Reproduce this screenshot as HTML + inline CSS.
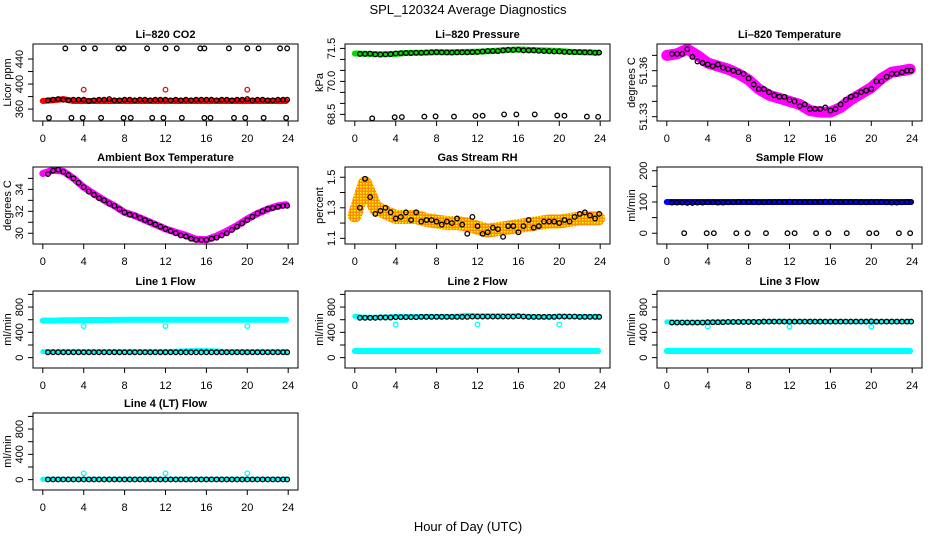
<!DOCTYPE html>
<html><head><meta charset="utf-8"><style>
html,body{margin:0;padding:0;background:#fff;}
svg{display:block;font-family:"Liberation Sans",Arial,sans-serif;}
</style></head><body>
<svg id="chart" width="936" height="540" viewBox="0 0 936 540">
<text x="468" y="14" text-anchor="middle" font-size="13">SPL_120324  Average Diagnostics</text>
<text x="468" y="531" text-anchor="middle" font-size="13">Hour of Day (UTC)</text>
</svg>
<script>
// shared x data
const hours = [0.5,1.0,1.5,2.0,2.5,3.0,3.5,4.0,4.5,5.0,5.5,6.0,6.5,7.0,7.5,8.0,8.5,9.0,9.5,10.0,10.5,11.0,11.5,12.0,12.5,13.0,13.5,14.0,14.5,15.0,15.5,16.0,16.5,17.0,17.5,18.0,18.5,19.0,19.5,20.0,20.5,21.0,21.5,22.0,22.5,23.0,23.5,23.9];
const knots = [0,1,2,3,4,5,6,7,8,9,10,11,12,13,14,15,16,17,18,19,20,21,22,23,23.8];
const xTicks = [0,4,8,12,16,20,24];
const outlierHours = [4,12,20];
const topOutHours = [2.2,4,5.1,7.4,7.9,10.2,12,13.1,15.4,15.8,18.2,20,21.1,23.2,23.9];
const lowOutHours = [0.6,2.8,3.9,5.7,7.9,8.6,10.7,11.8,13.6,15.8,16.4,18.7,19.8,21.6,23.8];
const dropHours = [1.7,3.9,4.6,6.8,7.9,9.7,11.8,12.5,14.6,15.8,17.6,19.8,20.5,22.7,23.8];

// CO2
const co2Band = [373,374,376,373,373,373,373,373,373,373,373,373,373,373,373,373,373,373,373,373,373,373,373,373,373];
const co2Black = [374,375,376,375,374,375,375,375,373,374,375,375,376,374,374,375,375,374,375,375,374,375,375,375,374,375,374,375,374,375,375,375,375,374,375,375,374,375,375,376,374,375,375,374,374,375,375,375];
const co2Top = [457,457,457,457,457,457,457,457,457,457,457,457,457,457,457];
const co2Low = [346,346,346,346,346,346,346,346,346,346,346,346,346,346,346];
const co2Red = [391,391,391];
// Pressure
const presBand = [71.27,71.26,71.24,71.23,71.25,71.29,71.30,71.31,71.33,71.32,71.33,71.34,71.35,71.37,71.40,71.43,71.45,71.43,71.42,71.40,71.38,71.35,71.33,71.32,71.30];
const presBlack = [71.25,71.25,71.26,71.23,71.22,71.23,71.24,71.27,71.28,71.29,71.29,71.30,71.30,71.31,71.32,71.33,71.32,71.32,71.31,71.32,71.32,71.32,71.33,71.34,71.36,71.38,71.38,71.38,71.41,71.43,71.43,71.44,71.41,71.41,71.41,71.39,71.38,71.37,71.36,71.36,71.34,71.34,71.33,71.33,71.32,71.32,71.30,71.31];
const presDrop = [68.32,68.37,68.38,68.40,68.41,68.40,68.43,68.44,68.50,68.50,68.50,68.45,68.44,68.40,68.39];
// Li-820 temperature
const tempBand = [51.370,51.371,51.374,51.370,51.365,51.363,51.361,51.358,51.354,51.348,51.344,51.342,51.340,51.338,51.334,51.333,51.333,51.336,51.341,51.345,51.349,51.355,51.359,51.360,51.361];
const tempBlack = [51.371,51.371,51.371,51.374,51.369,51.366,51.365,51.364,51.363,51.364,51.362,51.361,51.360,51.359,51.358,51.355,51.351,51.348,51.348,51.346,51.344,51.343,51.343,51.341,51.340,51.337,51.338,51.335,51.335,51.335,51.336,51.334,51.335,51.338,51.341,51.343,51.344,51.346,51.347,51.348,51.353,51.353,51.356,51.358,51.358,51.359,51.360,51.360];
// Ambient
const ambBand = [35.45,35.75,35.65,35.0,34.2,33.6,33.0,32.5,31.9,31.6,31.2,30.8,30.4,30.1,29.8,29.45,29.4,29.75,30.2,30.7,31.3,31.8,32.2,32.5,32.6];
const ambBlack = [35.4,35.7,35.8,35.6,35.3,35.0,34.6,34.2,33.8,33.5,33.2,33.0,32.7,32.5,32.2,31.9,31.7,31.6,31.4,31.2,31.0,30.8,30.6,30.4,30.2,30.0,29.8,29.7,29.5,29.4,29.4,29.4,29.5,29.6,29.8,30.0,30.3,30.6,30.9,31.2,31.5,31.8,32.0,32.2,32.3,32.4,32.5,32.5];
// RH
const rhBand = [1.25,1.46,1.30,1.27,1.24,1.24,1.24,1.22,1.21,1.20,1.20,1.19,1.17,1.15,1.16,1.17,1.18,1.19,1.20,1.21,1.21,1.22,1.23,1.23,1.23];
const rhBlack = [1.30,1.49,1.37,1.26,1.28,1.30,1.27,1.23,1.24,1.27,1.22,1.27,1.21,1.22,1.22,1.21,1.19,1.21,1.20,1.23,1.19,1.13,1.24,1.18,1.13,1.14,1.17,1.16,1.11,1.18,1.18,1.14,1.18,1.22,1.17,1.18,1.21,1.21,1.21,1.20,1.22,1.21,1.24,1.26,1.27,1.25,1.23,1.26];
// Sample flow
const sfBand = [100,100,100,100,100,100,100,100,100,100,100,100,100,100,100,100,100,100,100,100,100,100,100,100,100];
const sfBlack = [98,98,98,97,97,98,98,99,99,98,98,99,99,100,100,100,100,99,99,100,100,100,100,101,100,100,100,100,100,100,101,101,100,100,100,100,100,99,99,100,100,100,99,98,98,99,100,100];
const sfDrop = [0,0,0,0,0,0,0,0,0,0,0,0,0,0,0];
// Line flows
const l1Cyan = [585,585,590,592,595,596,596,597,598,598,598,598,598,598,598,598,598,598,598,598,598,598,598,598,598];
const l1Low = [95,95,95,95,95,95,95,95,95,95,95,95,95,100,110,112,112,105,95,95,95,95,95,95,95];
const l1Black = [85,85,85,85,85,85,85,85,85,85,85,85,85,85,85,85,85,85,85,85,85,85,85,85,85,85,85,85,85,85,85,85,85,85,85,85,85,85,85,85,85,85,85,85,85,85,85,85];
const l1Out = [500,500,500];
const l2Cyan = [655,640,640,645,650,650,650,650,650,650,655,670,660,660,660,660,660,650,645,645,660,650,650,650,650];
const l2Low = [105,105,105,105,105,105,105,105,105,105,105,105,105,105,105,105,105,105,105,105,105,105,105,105,105];
const l2Black = [630,630,630,630,635,635,635,640,640,640,640,640,645,645,645,645,645,645,645,645,645,645,650,650,650,650,650,650,650,650,650,655,650,645,645,645,645,645,645,650,650,650,650,645,645,645,645,645];
const l2Out = [525,525,525];
const l3Cyan = [565,560,560,560,560,565,565,565,570,570,570,575,570,570,570,570,570,570,570,570,570,570,570,570,570];
const l3Low = [105,105,105,105,105,105,105,105,105,105,105,105,105,105,105,105,105,105,105,105,105,105,105,105,105];
const l3Black = [555,555,555,555,555,555,555,560,560,560,560,565,565,565,565,565,565,565,570,570,570,570,570,570,570,570,570,570,570,570,570,570,570,570,570,570,570,570,570,575,570,570,570,570,570,570,570,570];
const l3Out = [490,490,490];
const l4Cyan = [5,5,5,5,5,5,5,5,5,5,5,5,5,5,5,5,5,5,5,5,5,5,5,5,5];
const l4Black = [3,3,3,3,3,3,3,3,3,3,3,3,3,3,3,3,3,3,3,3,3,3,3,3,3,3,3,3,3,3,3,3,3,3,3,3,3,3,3,3,3,3,3,3,3,3,3,3];
const l4Out = [100,100,100];

const NS = "http://www.w3.org/2000/svg";
const svg = document.getElementById('chart');
const COLS = [33,345,657], ROWS = [44,167,291,413], W = 265, H = 77;
function mk(tag, attrs, parent){const e=document.createElementNS(NS,tag);for(const k in attrs)e.setAttribute(k,attrs[k]);(parent||svg).appendChild(e);return e;}

const flowTicks=[0,200,400,600,800,1000], flowLabels=[0,400,800];
const panels = [
 {name:'co2',title:'Li\u2013820 CO2',ylab:'Licor ppm',c:0,r:0,y0:341,y1:464,ticks:[360,380,400,420,440],labels:[360,400,440],fmt:v=>String(v)},
 {name:'pressure',title:'Li\u2013820 Pressure',ylab:'kPa',c:1,r:0,y0:68.2,y1:71.7,ticks:[68.5,69,69.5,70,70.5,71,71.5],labels:[68.5,70,71.5],fmt:v=>v.toFixed(1)},
 {name:'li820-temp',title:'Li\u2013820 Temperature',ylab:'degrees C',c:2,r:0,y0:51.3272,y1:51.3774,ticks:[51.33,51.34,51.35,51.36,51.37],labels:[51.33,51.36],fmt:v=>v.toFixed(2)},
 {name:'ambient-temp',title:'Ambient Box Temperature',ylab:'degrees C',c:0,r:1,y0:29.02,y1:36.04,ticks:[30,31,32,33,34,35],labels:[30,32,34],fmt:v=>String(v)},
 {name:'rh',title:'Gas Stream RH',ylab:'percent',c:1,r:1,y0:1.063,y1:1.567,ticks:[1.1,1.2,1.3,1.4,1.5],labels:[1.1,1.3,1.5],fmt:v=>v.toFixed(1)},
 {name:'sample-flow',title:'Sample Flow',ylab:'ml/min',c:2,r:1,y0:-34.5,y1:212,ticks:[0,50,100,150,200],labels:[0,100,200],fmt:v=>String(v)},
 {name:'line1',title:'Line 1 Flow',ylab:'ml/min',c:0,r:2,y0:-164,y1:1054,ticks:flowTicks,labels:flowLabels,fmt:v=>String(v)},
 {name:'line2',title:'Line 2 Flow',ylab:'ml/min',c:1,r:2,y0:-164,y1:1054,ticks:flowTicks,labels:flowLabels,fmt:v=>String(v)},
 {name:'line3',title:'Line 3 Flow',ylab:'ml/min',c:2,r:2,y0:-164,y1:1054,ticks:flowTicks,labels:flowLabels,fmt:v=>String(v)},
 {name:'line4',title:'Line 4 (LT) Flow',ylab:'ml/min',c:0,r:3,y0:-164,y1:1054,ticks:flowTicks,labels:flowLabels,fmt:v=>String(v)}
];

function setup(p){
  const L=COLS[p.c], T=ROWS[p.r];
  const g=mk('g',{});
  
  
  p.g=g;
  p.x=v=>L+(v+0.96)/25.92*W;
  p.y=v=>T+H-(v-p.y0)/(p.y1-p.y0)*H;
  p.L=L;p.T=T;
  return p;
}
function axes(p){
  const g=p.g,L=p.L,T=p.T;
  const box=mk('rect',{x:L,y:T,width:W,height:H,fill:'none',stroke:'#000','stroke-width':1},g);
  
  
  const t=mk('text',{x:L+W/2,y:T-6,'text-anchor':'middle','font-size':11,'font-weight':'bold'},g);
  t.textContent=p.title;
  
  
  xTicks.forEach(v=>{
    const X=p.x(v);
    mk('line',{x1:X,y1:T+H,x2:X,y2:T+H+5,stroke:'#000'},g);
    const tl=mk('text',{x:X,y:T+H+21,'text-anchor':'middle','font-size':11},g);
    tl.textContent=v;
    
    
  });
  p.ticks.forEach(v=>{
    const Y=p.y(v);
    mk('line',{x1:L-5,y1:Y,x2:L,y2:Y,stroke:'#000'},g);
  });
  p.labels.forEach(v=>{
    const Y=p.y(v), X=L-10;
    const tl=mk('text',{x:X,y:Y,'text-anchor':'middle','font-size':11,transform:`rotate(-90 ${X} ${Y})`},g);
    tl.textContent=p.fmt(v);
    
    
  });
  const yl=mk('text',{x:L-22,y:T+H/2,'text-anchor':'middle','font-size':11,transform:`rotate(-90 ${L-22} ${T+H/2})`},g);
  yl.textContent=p.ylab;
  
  
}
function band(p,xs,vs,color,w,nm){
  const pts=xs.map((x,i)=>p.x(x).toFixed(1)+','+p.y(vs[i]).toFixed(1)).join(' ');
  const e=mk('polyline',{points:pts,fill:'none',stroke:color,'stroke-width':w,'stroke-linecap':'round','stroke-linejoin':'round'},p.g);
  
  
  return e;
}
function circles(p,xs,vs,color,nm,r){
  const gg=mk('g',{},p.g);
  
  
  xs.forEach((x,i)=>{
    const c=mk('circle',{cx:p.x(x),cy:p.y(vs[i]),r:r||2.3,fill:'none',stroke:color,'stroke-width':1.3},gg);
    
    
  });
}
panels.forEach(setup);
const P={};panels.forEach(p=>P[p.name]=p);
const CY='#00ffff';

// pattern for RH
const defs=mk('defs',{});
const pat=mk('pattern',{id:'rhpat',width:3,height:3,patternUnits:'userSpaceOnUse'},defs);
mk('rect',{width:3,height:3,fill:'#ff8c00'},pat);
mk('rect',{x:0,y:0,width:1.5,height:1.5,fill:'#ffff00'},pat);

// CO2
band(P['co2'],knots,co2Band,'#ff0000',6,'co2-band');
circles(P['co2'],outlierHours,co2Red,'#ff0000','co2-red-outliers');
circles(P['co2'],hours,co2Black,'#000','co2-hourly-means');
circles(P['co2'],topOutHours,co2Top,'#000','co2-high-outliers');
circles(P['co2'],lowOutHours,co2Low,'#000','co2-low-outliers');
// Pressure
band(P['pressure'],knots,presBand,'#00dd00',6,'pressure-band');
circles(P['pressure'],hours,presBlack,'#000','pressure-hourly-means');
circles(P['pressure'],dropHours,presDrop,'#000','pressure-drops');
// Temp
band(P['li820-temp'],knots,tempBand,'#ff00ff',11,'li820-temp-band');
circles(P['li820-temp'],hours,tempBlack,'#000','li820-temp-means');
// Ambient
band(P['ambient-temp'],knots,ambBand,'#ff00ff',7,'ambient-temp-band');
circles(P['ambient-temp'],hours,ambBlack,'#000','ambient-temp-means');
// RH
band(P['rh'],knots,rhBand,'url(#rhpat)',14,'rh-band');
circles(P['rh'],hours,rhBlack,'#000','rh-means');
// Sample flow
band(P['sample-flow'],knots,sfBand,'#0000ff',6,'sample-flow-band');
circles(P['sample-flow'],hours,sfBlack,'#000','sample-flow-means');
circles(P['sample-flow'],dropHours,sfDrop,'#000','sample-flow-drops');
// Line 1
band(P['line1'],knots,l1Cyan,CY,6,'line1-band');
band(P['line1'],knots,l1Low,CY,5,'line1-low-band');
circles(P['line1'],outlierHours,l1Out,CY,'line1-outliers');
circles(P['line1'],hours,l1Black,'#000','line1-means');
// Line 2
band(P['line2'],knots,l2Cyan,CY,5,'line2-band');
band(P['line2'],knots,l2Low,CY,6,'line2-low-band');
circles(P['line2'],outlierHours,l2Out,CY,'line2-outliers');
circles(P['line2'],hours,l2Black,'#000','line2-means');
// Line 3
band(P['line3'],knots,l3Cyan,CY,5,'line3-band');
band(P['line3'],knots,l3Low,CY,6,'line3-low-band');
circles(P['line3'],outlierHours,l3Out,CY,'line3-outliers');
circles(P['line3'],hours,l3Black,'#000','line3-means');
// Line 4
band(P['line4'],knots,l4Cyan,CY,5,'line4-band');
circles(P['line4'],outlierHours,l4Out,CY,'line4-outliers');
circles(P['line4'],hours,l4Black,'#000','line4-means');

panels.forEach(axes);
</script>
</body></html>
